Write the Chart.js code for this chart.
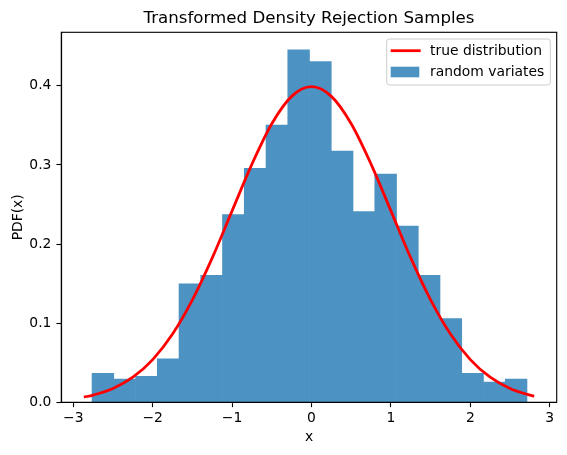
<!DOCTYPE html>
<html>
<head>
<meta charset="utf-8">
<script src="https://cdn.jsdelivr.net/npm/chart.js@4"></script>
<style>
  html, body { margin: 0; padding: 0; background: #fff; }
  #chart { display: block; }
</style>
</head>
<body>
<canvas id="chart" width="567" height="455"></canvas>
<script>
// histogram bin edges (20 bins) and density heights
const binEdges = [-2.764, -2.490, -2.216, -1.942, -1.668, -1.395, -1.121, -0.847, -0.573, -0.299,
                  -0.025, 0.249, 0.523, 0.797, 1.071, 1.345, 1.618, 1.892, 2.166, 2.440, 2.714];
const binDensity = [0.0365, 0.0292, 0.0329, 0.0548, 0.1497, 0.1606, 0.2373, 0.2957, 0.3505, 0.4454,
                    0.4308, 0.3176, 0.2410, 0.2884, 0.2227, 0.1606, 0.1059, 0.0365, 0.0256, 0.0292];

// red curve, sampled along x
const curveX = [-2.867, -2.75, -2.5, -2.25, -2.0, -1.75, -1.5, -1.25, -1.0, -0.75, -0.5, -0.25, 0,
                0.25, 0.5, 0.75, 1.0, 1.25, 1.5, 1.75, 2.0, 2.25, 2.5, 2.75, 2.805];
const curveY = [0.0065, 0.0091, 0.0175, 0.0317, 0.0540, 0.0863, 0.1295, 0.1826, 0.2420, 0.3011, 0.3521, 0.3867, 0.3989,
                0.3867, 0.3521, 0.3011, 0.2420, 0.1826, 0.1295, 0.0863, 0.0540, 0.0317, 0.0175, 0.0091, 0.0078];

const xTicks = [-3, -2, -1, 0, 1, 2, 3];
const yTicks = [0.0, 0.1, 0.2, 0.3, 0.4];

// tab blue at alpha 0.8 over white, kept opaque so the bars join without seams
const barColor = 'rgb(76, 146, 195)';
const lineColor = '#ff0000';
const px = 100 / 72; // matplotlib points -> pixels

Chart.defaults.font.family = "'DejaVu Sans', sans-serif";
Chart.defaults.color = '#000';

const bars = binDensity.map((d, i) => ({ x: (binEdges[i] + binEdges[i + 1]) / 2, y: d }));
const curve = curveX.map((x, i) => ({ x: x, y: curveY[i] }));

// frame on all four sides, drawn above the bars like matplotlib's spines
const framePlugin = {
    id: 'frame',
    afterDatasetsDraw(chart) {
        const a = chart.chartArea, ctx = chart.ctx;
        ctx.save();
        ctx.strokeStyle = '#000';
        ctx.lineWidth = 0.8 * px;
        ctx.strokeRect(a.left, a.top, a.right - a.left, a.bottom - a.top);
        ctx.restore();
    }
};

// legend inside the axes, upper right
const legendPlugin = {
    id: 'innerLegend',
    afterDraw(chart) {
        const a = chart.chartArea, ctx = chart.ctx;
        const w = 163.6, h = 46;
        const x0 = a.right - 6.4 - w, y0 = a.top + 6.7;
        ctx.save();
        ctx.beginPath();
        ctx.roundRect(x0, y0, w, h, 2.8);
        ctx.fillStyle = 'rgba(255,255,255,0.8)';
        ctx.fill();
        ctx.strokeStyle = '#cccccc';
        ctx.lineWidth = 1;
        ctx.stroke();

        ctx.font = (10 * px) + "px 'DejaVu Sans'";
        ctx.textBaseline = 'middle';
        ctx.fillStyle = '#000';

        const ds = chart.data.datasets;
        // line entry
        ctx.strokeStyle = lineColor;
        ctx.lineWidth = 2 * px;
        ctx.beginPath();
        ctx.moveTo(x0 + 4, y0 + 11.7);
        ctx.lineTo(x0 + 34, y0 + 11.7);
        ctx.stroke();
        ctx.fillText(ds[0].label, x0 + 43.3, y0 + 12);
        // bar entry
        ctx.fillStyle = barColor;
        ctx.fillRect(x0 + 4, y0 + 27.7, 28.6, 10.6);
        ctx.fillStyle = '#000';
        ctx.fillText(ds[1].label, x0 + 43.3, y0 + 33.3);
        ctx.restore();
    }
};

new Chart(document.getElementById('chart'), {
    data: {
        datasets: [
            {
                type: 'line',
                label: 'true distribution',
                data: curve,
                borderColor: lineColor,
                borderWidth: 2 * px,
                pointRadius: 0,
                cubicInterpolationMode: 'monotone',
                order: 0
            },
            {
                type: 'bar',
                label: 'random variates',
                data: bars,
                backgroundColor: barColor,
                borderWidth: 0,
                barPercentage: 1.0,
                categoryPercentage: 1.0,
                order: 1
            }
        ]
    },
    options: {
        responsive: false,
        animation: false,
        events: [],
        layout: { padding: { left: 0, right: 10.3, top: 0, bottom: 0 } },
        plugins: {
            legend: { display: false },
            tooltip: { enabled: false },
            title: {
                display: true,
                text: 'Transformed Density Rejection Samples',
                fullSize: false,
                font: { size: 12 * px, weight: 'normal' },
                color: '#000',
                padding: { top: 8.5, bottom: 3.8 }
            }
        },
        scales: {
            x: {
                type: 'linear',
                min: -3.151,
                max: 3.088,
                offset: false,
                afterFit(scale) { scale.height = 52.7; },
                afterBuildTicks(scale) { scale.ticks = xTicks.map(v => ({ value: v })); },
                ticks: {
                    font: { size: 10 * px },
                    color: '#000',
                    padding: 2.5,
                    maxRotation: 0,
                    callback: v => String(v).replace('-', '\u2212')
                },
                grid: {
                    offset: false,
                    drawOnChartArea: false,
                    drawTicks: true,
                    tickLength: 3.5 * px,
                    tickWidth: 0.8 * px,
                    tickColor: '#000'
                },
                border: { display: true, color: '#000', width: 0.8 * px },
                title: {
                    display: true,
                    text: 'x',
                    font: { size: 10 * px },
                    color: '#000',
                    padding: { top: 0, bottom: 9.2 }
                }
            },
            y: {
                type: 'linear',
                min: 0,
                max: 0.4677,
                afterFit(scale) { scale.width = 61.3; },
                afterBuildTicks(scale) { scale.ticks = yTicks.map(v => ({ value: v })); },
                ticks: {
                    font: { size: 10 * px },
                    color: '#000',
                    padding: 5,
                    callback: v => v.toFixed(1)
                },
                grid: {
                    drawOnChartArea: false,
                    drawTicks: true,
                    tickLength: 3.5 * px,
                    tickWidth: 0.8 * px,
                    tickColor: '#000'
                },
                border: { display: true, color: '#000', width: 0.8 * px },
                title: {
                    display: true,
                    text: 'PDF(x)',
                    font: { size: 10 * px },
                    color: '#000',
                    padding: { top: 9.7, bottom: 0 }
                }
            }
        }
    },
    plugins: [framePlugin, legendPlugin]
});
</script>
</body>
</html>
